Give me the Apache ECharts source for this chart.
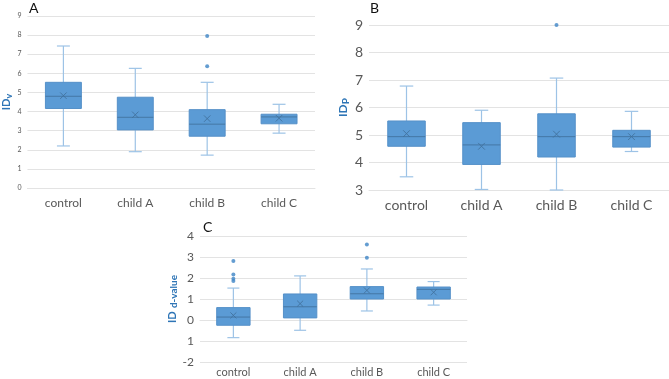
<!DOCTYPE html>
<html>
<head>
<meta charset="utf-8">
<script src="https://cdn.jsdelivr.net/npm/echarts@6/dist/echarts.min.js"></script>
<style>
  html, body { margin: 0; padding: 0; background: #fff; }
  #chart { width: 669px; height: 379px; }
</style>
</head>
<body>
<div id="chart"></div>
<script>
const categories = ['control', 'child A', 'child B', 'child C']

// [min, Q1, median, Q3, max, mean]
const boxesA = [
  [2.2, 4.16, 4.8, 5.53, 7.43, 4.83],
  [1.9, 3.04, 3.7, 4.75, 6.26, 3.83],
  [1.72, 2.71, 3.34, 4.1, 5.53, 3.63],
  [2.87, 3.36, 3.72, 3.86, 4.38, 3.65],
]
const outliersA = [[2, 7.95], [2, 6.37]]

const boxesB = [
  [3.48, 4.59, 4.94, 5.51, 6.78, 5.05],
  [3.02, 3.93, 4.64, 5.45, 5.9, 4.59],
  [3.0, 4.2, 4.94, 5.77, 7.07, 5.03],
  [4.4, 4.56, 4.94, 5.17, 5.86, 4.94],
]
const outliersB = [[2, 9.0]]

const boxesC = [
  [-0.84, -0.25, 0.14, 0.59, 1.52, 0.22],
  [-0.49, 0.1, 0.63, 1.24, 2.1, 0.78],
  [0.43, 1.0, 1.25, 1.59, 2.43, 1.41],
  [0.71, 1.0, 1.46, 1.57, 1.83, 1.32],
]
const outliersC = [[0, 2.81], [0, 2.17], [0, 1.97], [0, 1.86], [2, 3.59], [2, 2.97]]

const BOX = '#5B9BD5'
const WHISKER = '#9DC3E6'
const MID = '#41719C'
const TITLE_BLUE = '#2E75B6'
const FONT = 'Lato, "Liberation Sans", sans-serif'

function renderBox(params, api) {
  const x = api.value(0)
  const p = (i) => api.coord([x, api.value(i)])
  const band = api.size([1, 0])[0]
  const bw = band * 0.5
  const cap = band * 0.18
  const pMin = p(1), pQ1 = p(2), pMed = p(3), pQ3 = p(4), pMax = p(5), pMean = p(6)
  const cx = pMed[0]
  const m = band * 0.045
  const wStyle = { stroke: WHISKER, lineWidth: 1.2 }
  const mStyle = { stroke: MID, lineWidth: 1, opacity: 0.85 }
  return {
    type: 'group',
    children: [
      { type: 'line', shape: { x1: cx, y1: pMin[1], x2: cx, y2: pMax[1] }, style: wStyle },
      { type: 'line', shape: { x1: cx - cap / 2, y1: pMin[1], x2: cx + cap / 2, y2: pMin[1] }, style: wStyle },
      { type: 'line', shape: { x1: cx - cap / 2, y1: pMax[1], x2: cx + cap / 2, y2: pMax[1] }, style: wStyle },
      { type: 'rect', shape: { x: cx - bw / 2, y: pQ3[1], width: bw, height: pQ1[1] - pQ3[1] },
        style: { fill: BOX, stroke: '#5590C8', lineWidth: 1 } },
      { type: 'line', shape: { x1: cx - bw / 2, y1: pMed[1], x2: cx + bw / 2, y2: pMed[1] }, style: mStyle },
      { type: 'line', shape: { x1: cx - m, y1: pMean[1] - m, x2: cx + m, y2: pMean[1] + m }, style: mStyle },
      { type: 'line', shape: { x1: cx - m, y1: pMean[1] + m, x2: cx + m, y2: pMean[1] - m }, style: mStyle },
    ],
  }
}

function boxData(boxes) {
  return boxes.map((b, i) => [i, ...b])
}

function makeY(idx, min, max, fontSize, nameRich, nameText, nameGap, fmt) {
  return {
    type: 'value',
    gridIndex: idx,
    min, max, interval: 1,
    axisLine: { show: false },
    axisTick: { show: false },
    axisLabel: { color: '#595959', fontSize, fontFamily: FONT, margin: 6, formatter: fmt },
    splitLine: { lineStyle: { color: '#E3E3E3' } },
    name: nameText,
    nameLocation: 'middle',
    nameRotate: 90,
    nameGap,
    nameTextStyle: { rich: nameRich },
  }
}

function makeX(idx, fontSize, margin) {
  return {
    type: 'category',
    gridIndex: idx,
    data: categories,
    axisLine: { lineStyle: { color: '#E3E3E3' } },
    axisTick: { show: false },
    axisLabel: { color: '#595959', fontSize, fontFamily: FONT, margin },
  }
}

const chart = echarts.init(document.getElementById('chart'))

const option = {
  backgroundColor: '#fff',
  animation: false,
  title: [
    { text: 'A', left: 24, top: -4, textStyle: { fontSize: 14, fontWeight: 'normal', color: '#111', fontFamily: FONT } },
    { text: 'B', left: 365, top: -4, textStyle: { fontSize: 14, fontWeight: 'normal', color: '#111', fontFamily: FONT } },
    { text: 'C', left: 198, top: 215, textStyle: { fontSize: 14, fontWeight: 'normal', color: '#111', fontFamily: FONT } },
  ],
  grid: [
    { left: 25, top: 16, width: 290, height: 172 },
    { left: 369, top: 25, width: 300, height: 165 },
    { left: 200, top: 236, width: 267, height: 126 },
  ],
  xAxis: [makeX(0, 12, 9), makeX(1, 14, 8), makeX(2, 11, 5)],
  yAxis: [
    makeY(0, 0, 9, 7, {
      a: { fontSize: 11, fontWeight: 'bold', color: TITLE_BLUE, fontFamily: FONT },
      b: { fontSize: 9, fontWeight: 'bold', color: TITLE_BLUE, fontFamily: FONT, padding: [5, 0, 0, 0] },
    }, '{a|ID}{b|v}', 11),
    makeY(1, 3, 9, 14, {
      a: { fontSize: 12, fontWeight: 'bold', color: TITLE_BLUE, fontFamily: FONT },
      b: { fontSize: 10, fontWeight: 'bold', color: TITLE_BLUE, fontFamily: FONT, padding: [5, 0, 0, 0] },
    }, '{a|ID}{b|P}', 14),
    makeY(2, -2, 4, 12, {
      a: { fontSize: 11, fontWeight: 'bold', color: TITLE_BLUE, fontFamily: FONT },
      b: { fontSize: 10, fontWeight: 'bold', color: TITLE_BLUE, fontFamily: FONT, padding: [3, 0, 0, 0] },
    }, '{a|ID} {b|d-value}', 17, (v) => (v === -1 ? '1' : String(v))),
  ],
  series: [
    { type: 'custom', xAxisIndex: 0, yAxisIndex: 0, renderItem: renderBox, data: boxData(boxesA), encode: { x: 0, y: [1, 2, 3, 4, 5, 6] } },
    { type: 'custom', xAxisIndex: 1, yAxisIndex: 1, renderItem: renderBox, data: boxData(boxesB), encode: { x: 0, y: [1, 2, 3, 4, 5, 6] } },
    { type: 'custom', xAxisIndex: 2, yAxisIndex: 2, renderItem: renderBox, data: boxData(boxesC), encode: { x: 0, y: [1, 2, 3, 4, 5, 6] } },
    { type: 'scatter', xAxisIndex: 0, yAxisIndex: 0, data: outliersA, symbolSize: 4, itemStyle: { color: '#3D85C6' } },
    { type: 'scatter', xAxisIndex: 1, yAxisIndex: 1, data: outliersB, symbolSize: 4, itemStyle: { color: '#3D85C6' } },
    { type: 'scatter', xAxisIndex: 2, yAxisIndex: 2, data: outliersC, symbolSize: 4, itemStyle: { color: '#3D85C6' } },
  ],
}

chart.setOption(option)
</script>
</body>
</html>
